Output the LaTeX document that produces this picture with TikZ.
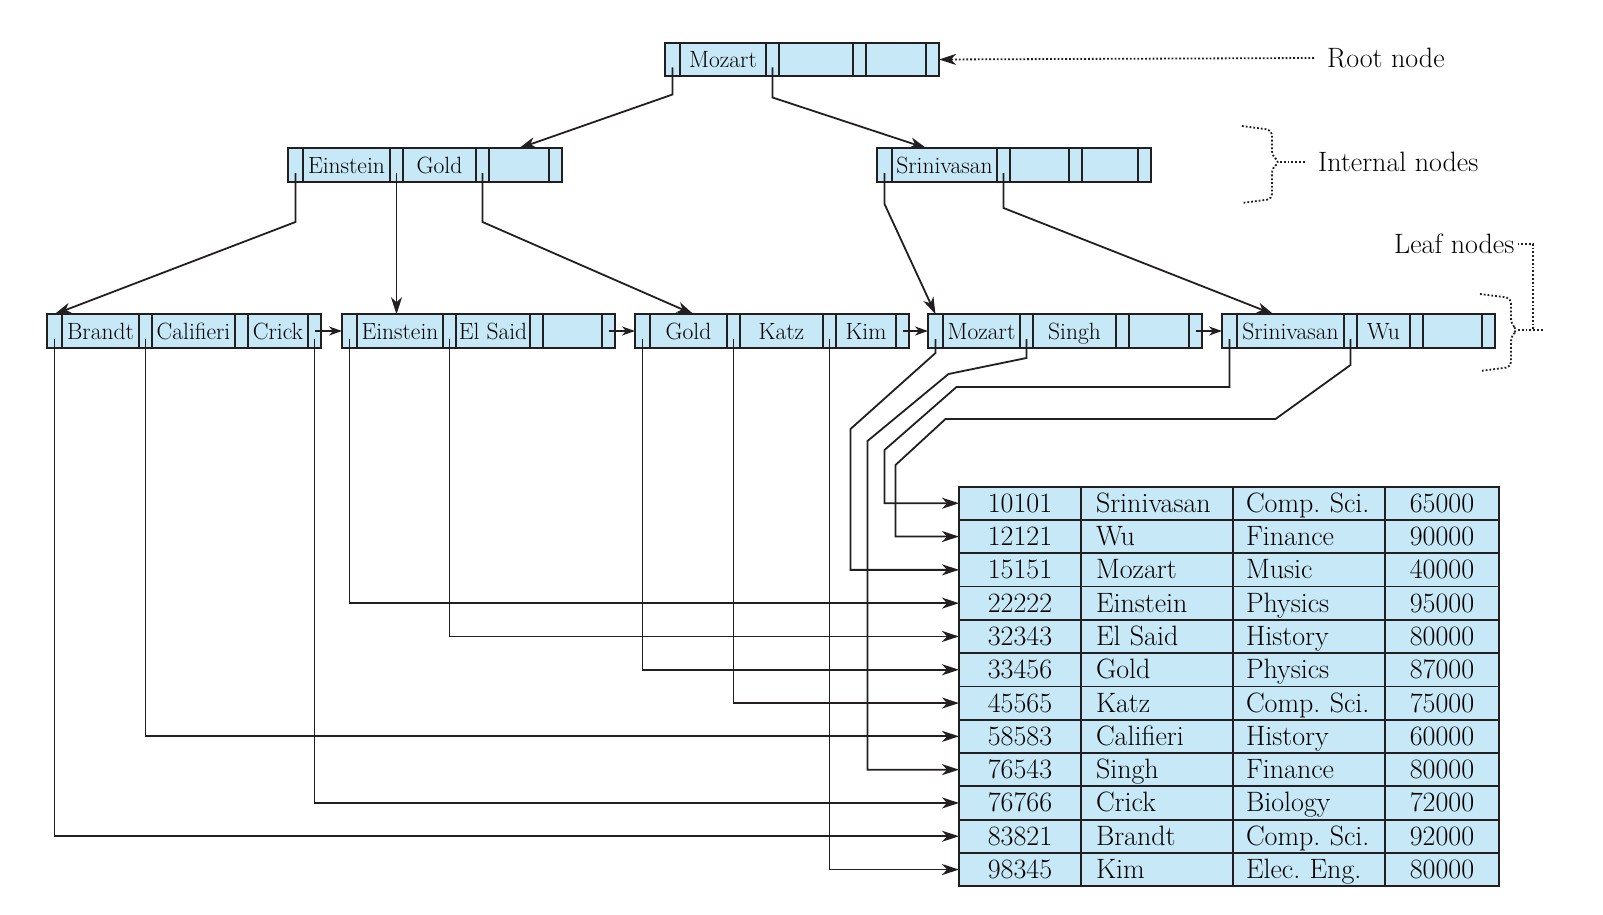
\documentclass[tikz,border=0pt]{standalone}
\usepackage{fontspec}
\usetikzlibrary{arrows.meta,positioning}
\definecolor{cellblue}{RGB}{199,232,247}
\definecolor{ink}{RGB}{35,31,32}
\newcommand{\keyfont}{\fontsize{23.5}{27}\selectfont}
\newcommand{\recfont}{\fontsize{28}{32}\selectfont}
\tikzset{>={Stealth[length=17pt,width=11pt,inset=5pt]},
    cell/.style={draw=ink,fill=cellblue,line width=1.8pt,inner sep=0pt,outer sep=0pt,minimum height=33.5pt},
    ptrcell/.style={cell,minimum width=13pt},
    firstptr/.style={cell,minimum width=15pt},
    keycell/.style={cell,minimum width=#1,font=\keyfont,text height=17pt,text depth=1pt},
    reccell/.style={draw=ink,fill=cellblue,line width=1.8pt,inner sep=0pt,outer sep=0pt,
        minimum height=33.3pt,font=\recfont,text height=20pt,text depth=2pt},
    idcell/.style={reccell,minimum width=122pt},
    namecell/.style={reccell,text width=122pt,inner xsep=15pt,align=left},
    deptcell/.style={reccell,text width=126pt,inner xsep=13pt,align=left},
    salcell/.style={reccell,minimum width=114pt},
    tptr/.style={->,draw=ink,line width=1.8pt,shorten <=8pt},
    nxt/.style={->,draw=ink,line width=1.8pt,>={Stealth[length=13pt,width=9pt,inset=4pt]}},
    lbl/.style={font=\recfont,inner sep=0pt,anchor=west},
    lead/.style={draw=ink,dotted,line width=1.8pt}
}
% one B+-tree node: name, west point, then width/key three times
\newcommand{\bpnode}[8]{%
    \node[firstptr,anchor=west] (#1-p1) at #2 {};
    \node[keycell=#3,right=0pt of #1-p1] (#1-k1) {#4};
    \node[ptrcell,right=0pt of #1-k1] (#1-p2) {};
    \node[keycell=#5,right=0pt of #1-p2] (#1-k2) {#6};
    \node[ptrcell,right=0pt of #1-k2] (#1-p3) {};
    \node[keycell=#7,right=0pt of #1-p3] (#1-k3) {#8};
    \node[ptrcell,right=0pt of #1-k3] (#1-p4) {};
}

\begin{document}
\frenchspacing
\begin{tikzpicture}[x=1pt,y=-1pt]
    \useasboundingbox (0,0) rectangle (1603,915);

    % tree nodes
    \bpnode{root}{(665,59.5)}{86pt}{Mozart}{74pt}{}{60pt}{}
    \bpnode{i1}{(288,165)}{87pt}{Einstein}{73pt}{Gold}{60pt}{}
    \bpnode{i2}{(877,165)}{105pt}{Srinivasan}{59pt}{}{56pt}{}
    \bpnode{l1}{(47,331)}{77pt}{Brandt}{83pt}{Califieri}{60pt}{Crick}
    \bpnode{l2}{(342,331)}{86pt}{Einstein}{74pt}{El Said}{59pt}{}
    \bpnode{l3}{(635,331)}{77pt}{Gold}{83pt}{Katz}{60pt}{Kim}
    \bpnode{l4}{(928,331)}{77pt}{Mozart}{83pt}{Singh}{60pt}{}
    \bpnode{l5}{(1222,331)}{107pt}{Srinivasan}{53pt}{Wu}{59pt}{}

    % the instructor file
    \foreach \sid/\sname/\sdept/\ssal [count=\r] in {
            10101/Srinivasan/Comp. Sci./65000,
            12121/Wu/Finance/90000,
            15151/Mozart/Music/40000,
            22222/Einstein/Physics/95000,
            32343/El Said/History/80000,
            33456/Gold/Physics/87000,
            45565/Katz/Comp. Sci./75000,
            58583/Califieri/History/60000,
            76543/Singh/Finance/80000,
            76766/Crick/Biology/72000,
            83821/Brandt/Comp. Sci./92000,
            98345/Kim/Elec. Eng./80000}{
        \node[idcell] (id\r) at (1020,{486.6+33.3*(\r-0.5)}) {\sid};
        \node[namecell,right=0pt of id\r] (nm\r) {\sname};
        \node[deptcell,right=0pt of nm\r] (dp\r) {\sdept};
        \node[salcell,right=0pt of dp\r] (sl\r) {\ssal};
    }

    % labels
    \node[lbl] (rootlbl) at (1327,58) {Root node};
    \node[lbl] (intlbl) at (1318,162) {Internal nodes};
    \node[lbl] (leaflbl) at (1394,244) {Leaf nodes};
    \coordinate (intbrace) at (1280,162);
    \coordinate (leafbrace) at (1518,330);

    \draw[lead,->] ([xshift=-13pt]rootlbl.west) -- (root-p4.east);
    \draw[lead,rounded corners=5pt] (1242,126) -- (1272,130) -- (1272,156) -- (intbrace)
        -- (1272,168) -- (1272,199) -- (1242,203);
    \draw[lead] (intbrace) -- ([xshift=-13pt]intlbl.west);
    \draw[lead,rounded corners=5pt] (1480,294) -- (1511,298) -- (1511,324) -- (leafbrace)
        -- (1511,336) -- (1511,367) -- (1480,371);
    \draw[lead] (leafbrace) -- ([xshift=25pt]leafbrace);
    \draw[lead] ([xshift=3pt]leaflbl.east) -| ([xshift=15pt]leafbrace);

    % root and internal pointers
    \draw[tptr] (root-p1.center) -- ++(0,35) -- (i1-k3.north);
    \draw[tptr] (root-p2.center) -- ++(0,38) -- ([xshift=-18pt]i2-k1.north);
    \draw[tptr] (i1-p1.center) -- ++(0,57) -- (l1-p1.north);
    \draw[tptr] (i1-p2.center) -- (i1-p2.center |- l2-k1.north);
    \draw[tptr] (i1-p3.center) -- ++(0,57) -- ([xshift=5pt]l3-k1.north);
    \draw[tptr] (i2-p1.center) -- ++(0,39) -- (l4-p1.north);
    \draw[tptr] (i2-p2.center) -- ++(0,43) -- ([xshift=-17pt]l5-k1.north);

    % leaf chain
    \draw[nxt] (l1-p4.center) -- (l2-p1.west);
    \draw[nxt] (l2-p4.center) -- (l3-p1.west);
    \draw[nxt] (l3-p4.center) -- (l4-p1.west);
    \draw[nxt] (l4-p4.center) -- (l5-p1.west);

    % leaf pointers to records
    \draw[tptr] (l1-p1.center) |- (id11.west);
    \draw[tptr] (l1-p2.center) |- (id8.west);
    \draw[tptr] (l1-p4.center) |- (id10.west);
    \draw[tptr] (l2-p1.center) |- (id4.west);
    \draw[tptr] (l2-p2.center) |- (id5.west);
    \draw[tptr] (l3-p1.center) |- (id6.west);
    \draw[tptr] (l3-p2.center) |- (id7.west);
    \draw[tptr] (l3-p3.center) |- (id12.west);
    \draw[tptr] (l4-p1.center) -- ++(0,22) -- ++(-85,76) |- (id3.west);
    \draw[tptr] (l4-p2.center) -- ++(0,27) -- ++(-78,16) -- ++(-81,67) |- (id9.west);
    \draw[tptr] (l5-p1.center) -- ++(0,56) -- ++(-273,0) -- ++(-72,63) |- (id1.west);
    \draw[tptr] (l5-p2.center) -- ++(0,34) -- ++(-75,54) -- ++(-330,0) -- ++(-50,46) |- (id2.west);
\end{tikzpicture}
\end{document}
